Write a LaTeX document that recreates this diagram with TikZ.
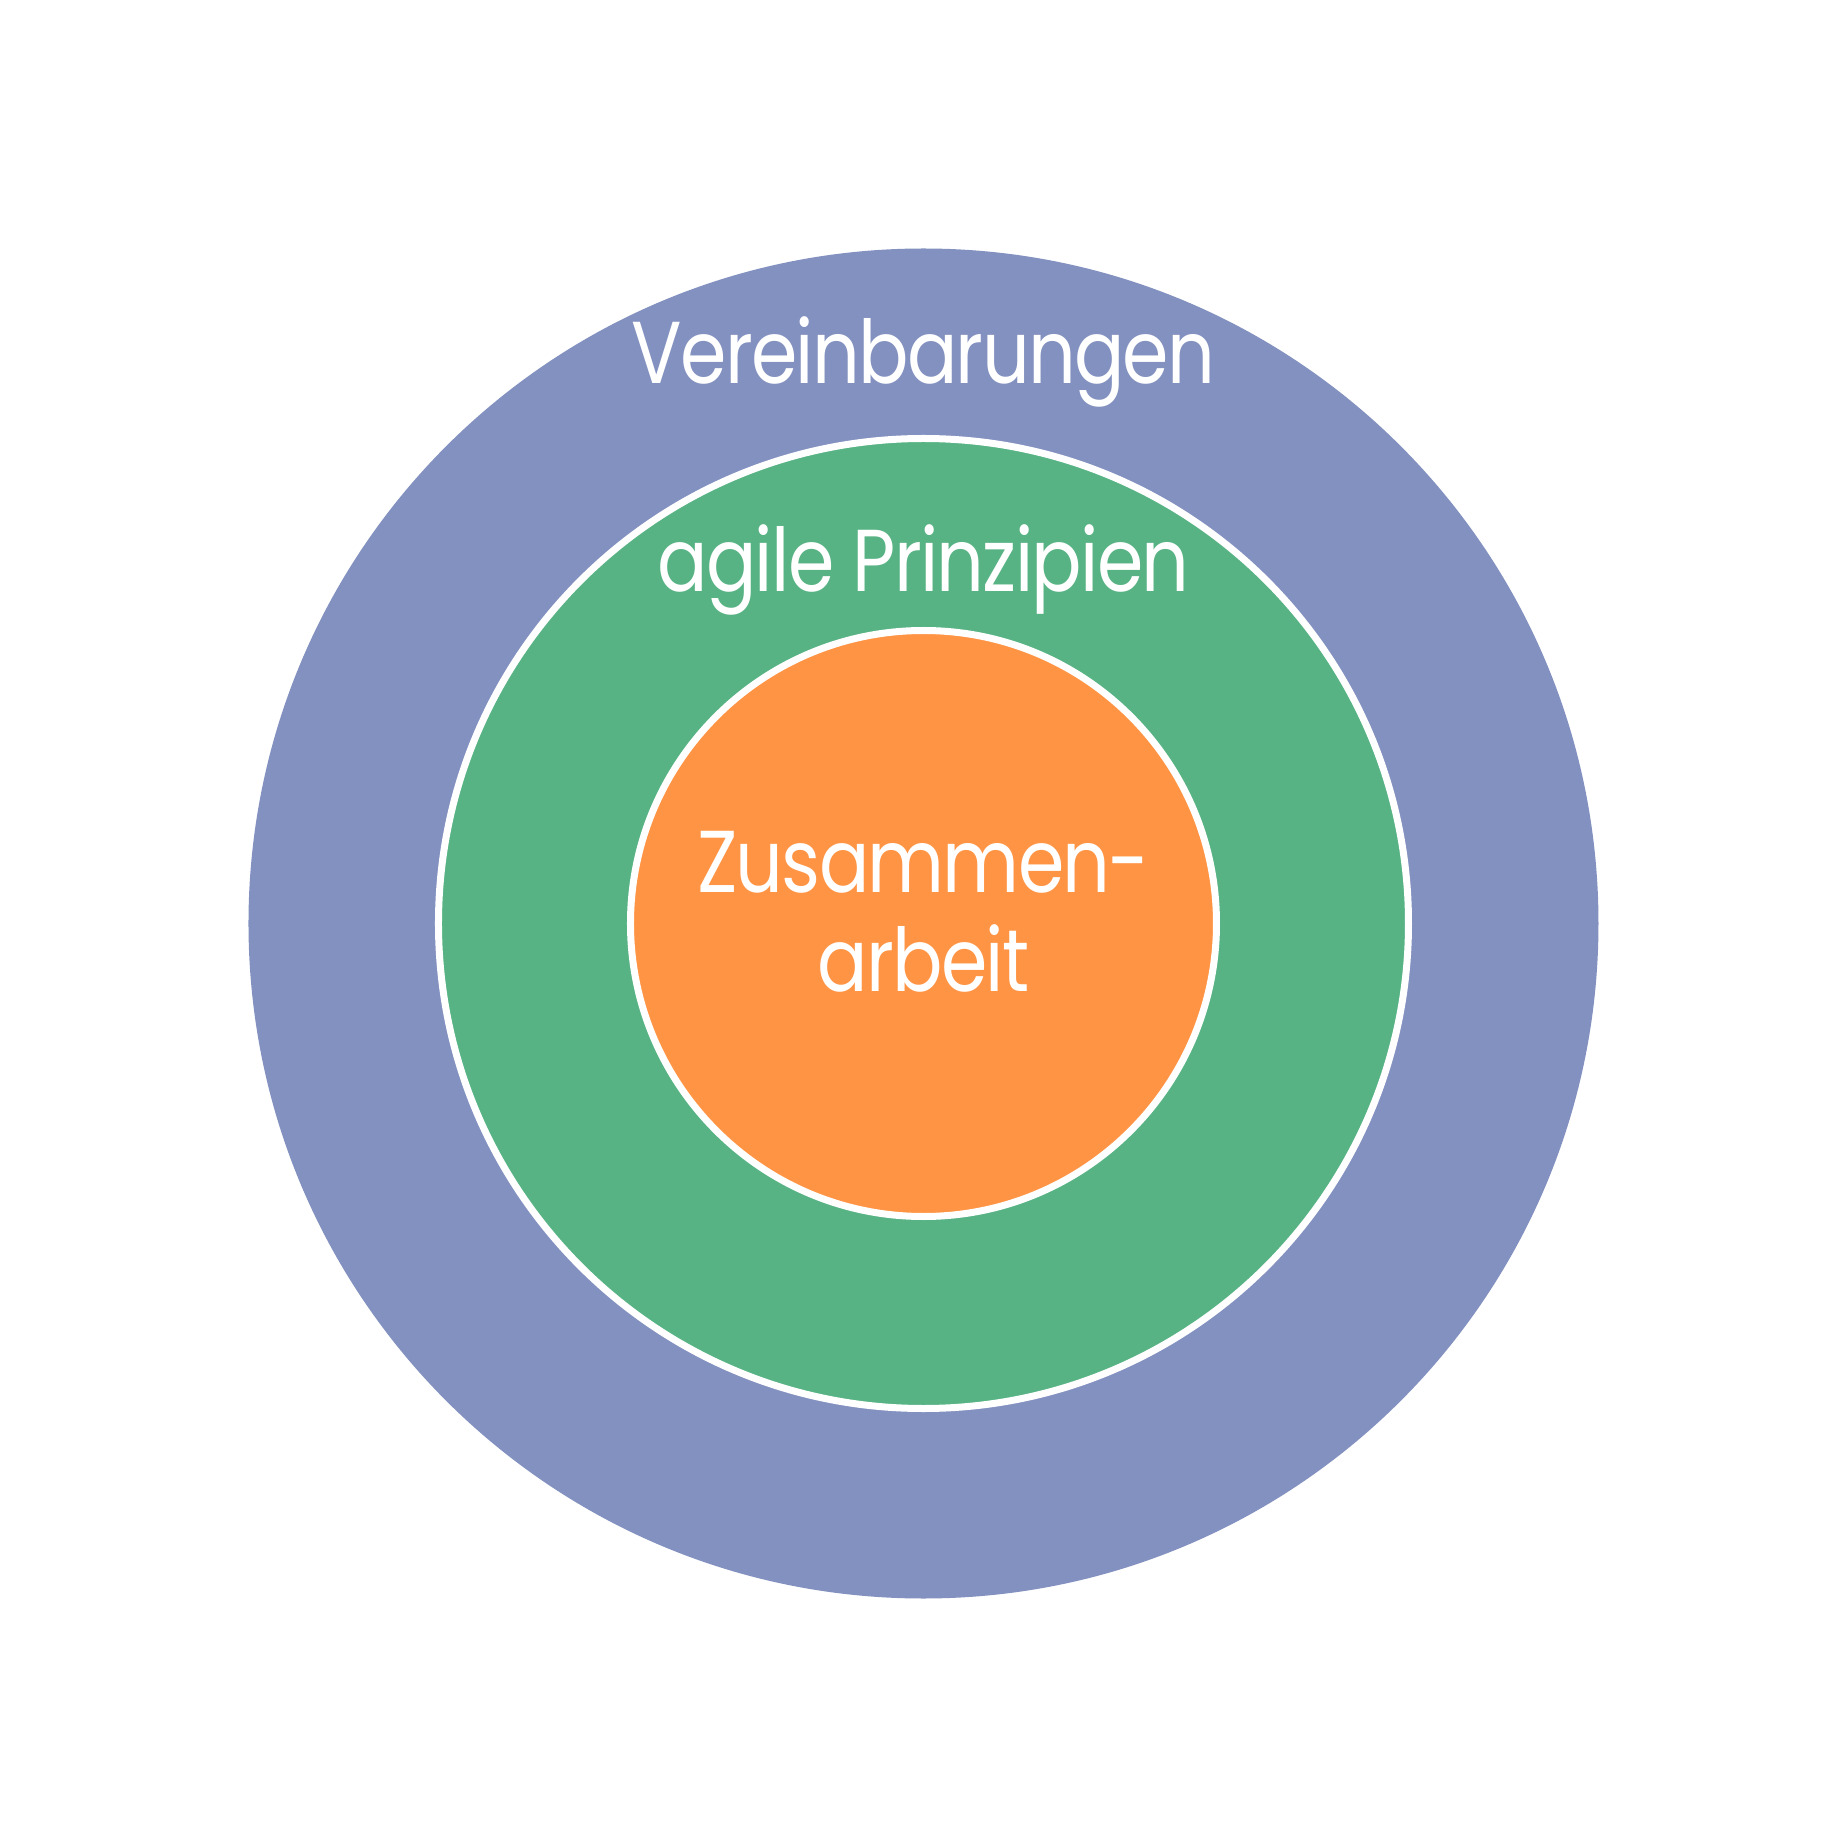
\documentclass[tikz,border=0pt]{standalone}
\usepackage{fontspec}
\setmainfont{Poppins}[FakeStretch=0.85, LetterSpace=-2]
\definecolor{ringblue}{HTML}{8391C0}
\definecolor{ringgreen}{HTML}{58B384}
\definecolor{coreorange}{HTML}{FF9444}
\tikzset{
  ring/.style={circle, inner sep=0pt, line width=0.07cm, draw=white},
  lbl/.style={text=white, font=\fontsize{25}{28}\selectfont, inner sep=0pt, anchor=base},
}
\begin{document}
\begin{tikzpicture}
\useasboundingbox[fill=white] (-9.235,-9.235) rectangle (9.235,9.235);
% three nested circles
\node[circle, inner sep=0pt, fill=ringblue, minimum size=13.5cm] (outer) at (0,0) {};
\node[ring, fill=ringgreen, minimum size=9.7cm] (middle) at (0,0) {};
\node[ring, fill=coreorange, minimum size=5.86cm] (inner) at (0,0) {};
% circle labels
\node[lbl] (t1) at (0,5.40) {Vereinbarungen};
\node[lbl] (t2) at (0,3.32) {agile Prinzipien};
\node[lbl] (t3) at (0,0.315) {Zusammen-};
\node[lbl] (t4) at (0,-0.685) {arbeit};
\end{tikzpicture}
\end{document}
